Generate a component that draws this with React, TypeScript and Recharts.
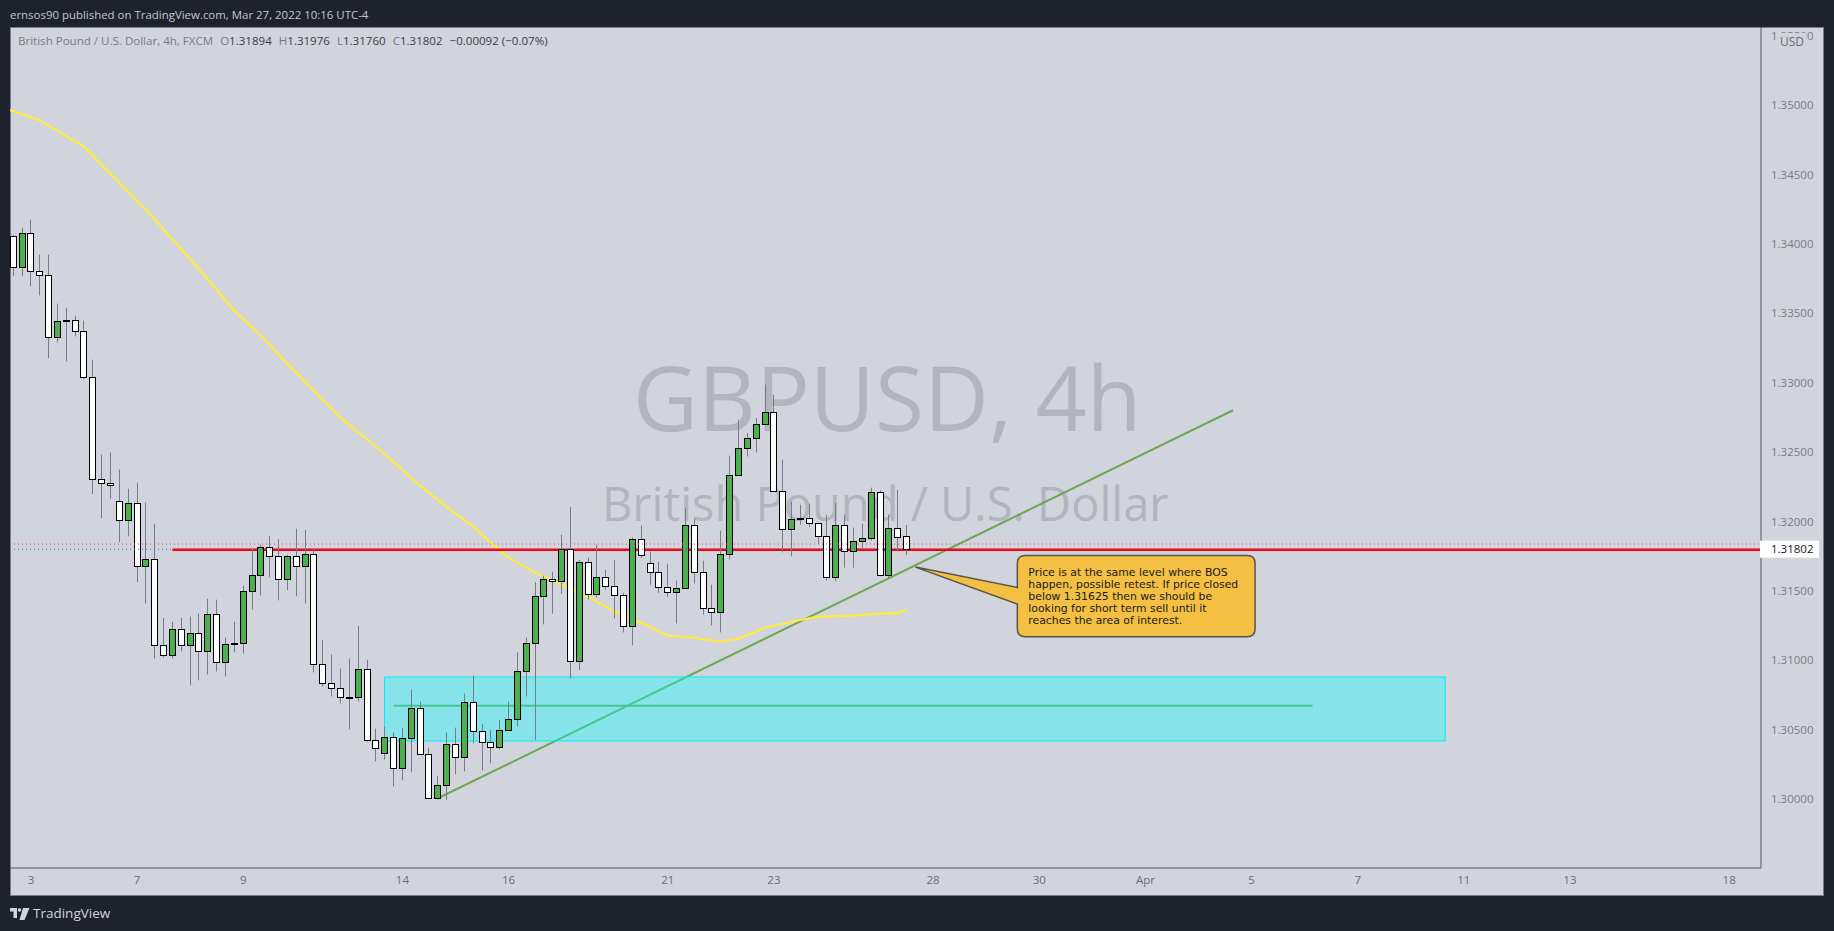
import React from "react";
import { ComposedChart, Bar, Line, XAxis, YAxis, ReferenceArea } from "recharts";

const opens = [1.34058,1.33835,1.34082,1.33806,1.33775,1.33331,1.3345,1.33453,1.33371,1.3304,1.32308,1.32279,1.32149,1.32009,1.32135,1.31678,1.31731,1.31112,1.3104,1.31227,1.31112,1.31198,1.31068,1.31335,1.30989,1.31125,1.31126,1.31501,1.31616,1.31818,1.31753,1.31587,1.31753,1.31678,1.31767,1.30975,1.30838,1.30799,1.30738,1.30737,1.30939,1.30427,1.30331,1.30449,1.30223,1.30442,1.30658,1.30326,1.30009,1.30103,1.30398,1.30305,1.30701,1.30492,1.30413,1.30377,1.30499,1.30578,1.30924,1.31126,1.31465,1.31587,1.31573,1.31803,1.30996,1.3171,1.31479,1.31602,1.31537,1.31472,1.31249,1.31875,1.31702,1.31638,1.3153,1.31493,1.31522,1.31976,1.31638,1.31378,1.31349,1.31767,1.32336,1.32531,1.32603,1.32704,1.3279,1.32221,1.31947,1.32024,1.32024,1.31991,1.31897,1.31602,1.31976,1.31789,1.31861,1.31883,1.32214,1.31616,1.31955,1.31894];
const closes = [1.33835,1.34082,1.33806,1.33775,1.33331,1.33446,1.33446,1.33371,1.3304,1.32305,1.32276,1.32262,1.32009,1.32135,1.31678,1.31731,1.31112,1.3104,1.31227,1.31112,1.31198,1.31068,1.31335,1.30989,1.31119,1.31121,1.31501,1.31616,1.31818,1.31753,1.31587,1.31753,1.31678,1.31767,1.30975,1.30835,1.30799,1.30734,1.30736,1.30939,1.30424,1.30367,1.30449,1.30223,1.30442,1.30658,1.30326,1.30009,1.30103,1.30398,1.30305,1.30701,1.30492,1.30413,1.30377,1.30499,1.30578,1.30924,1.31126,1.31465,1.31587,1.31573,1.31803,1.30996,1.3171,1.31479,1.31602,1.31537,1.31472,1.31249,1.31875,1.3176,1.31638,1.3153,1.31493,1.31522,1.31976,1.31638,1.31375,1.31349,1.31767,1.32336,1.32531,1.32603,1.32704,1.3279,1.32221,1.31947,1.32019,1.3202,1.31991,1.31897,1.31602,1.31976,1.31789,1.31861,1.31883,1.32214,1.31616,1.31955,1.3189,1.31802];
const highs = [1.34068,1.34118,1.34176,1.33924,1.33924,1.33571,1.33542,1.33484,1.33448,1.33167,1.32483,1.32497,1.32375,1.32238,1.32281,1.32137,1.31986,1.31308,1.31279,1.31308,1.31316,1.31337,1.31445,1.31438,1.31164,1.31279,1.31539,1.31805,1.31834,1.31899,1.31875,1.31762,1.3195,1.31942,1.31798,1.3115,1.31042,1.30941,1.31013,1.31251,1.31006,1.30509,1.30523,1.3048,1.30516,1.3079,1.30703,1.30372,1.3017,1.3048,1.30516,1.30761,1.3089,1.30545,1.30501,1.30573,1.30703,1.31058,1.31164,1.31563,1.31611,1.3164,1.31906,1.32106,1.31726,1.31741,1.31834,1.31654,1.31726,1.31488,1.31885,1.31971,1.31784,1.31712,1.31697,1.31575,1.32099,1.32022,1.31719,1.31546,1.31935,1.32476,1.32735,1.32639,1.32749,1.32987,1.32915,1.32447,1.32144,1.32122,1.3213,1.31991,1.3205,1.32135,1.3205,1.31957,1.31986,1.32245,1.32226,1.3205,1.32231,1.31976];
const lows = [1.33772,1.33772,1.33695,1.3363,1.33177,1.33292,1.33155,1.33335,1.33025,1.32197,1.32024,1.32166,1.31851,1.31894,1.31563,1.31411,1.31015,1.31022,1.31015,1.31066,1.30821,1.30857,1.309,1.30921,1.30885,1.31058,1.31051,1.31368,1.31469,1.31599,1.31433,1.31505,1.31462,1.31411,1.30914,1.30813,1.30741,1.30691,1.30504,1.30705,1.30415,1.30273,1.30287,1.30093,1.30136,1.30194,1.30321,1.30009,1.30009,1.29997,1.30179,1.30201,1.30403,1.30208,1.30259,1.30359,1.30499,1.30525,1.30741,1.30429,1.3126,1.31337,1.31481,1.30871,1.30929,1.31438,1.31455,1.3151,1.31303,1.31202,1.31109,1.31738,1.31546,1.31488,1.3146,1.31267,1.31522,1.31555,1.3133,1.31253,1.31202,1.31728,1.32336,1.3247,1.32499,1.32704,1.32221,1.31779,1.3175,1.31978,1.31962,1.31836,1.31575,1.3157,1.31669,1.31669,1.31798,1.31865,1.31606,1.31594,1.31786,1.3176];

const maIndex = [-0.37,3,8,11,15,18,22,25,28,31,34,37,40,43,46,49,52,54,56,59,62,65,68,71,74,77,80,82,85,88,91,95,98,100,101];
const maValues = [1.34965,1.34891,1.34702,1.34507,1.34248,1.34035,1.33747,1.3352,1.3334,1.33138,1.32944,1.32749,1.32594,1.32432,1.32259,1.32108,1.31964,1.31849,1.31741,1.31633,1.31546,1.3146,1.31352,1.31272,1.31179,1.31164,1.31135,1.31157,1.31236,1.31279,1.31316,1.31323,1.31337,1.31341,1.31366];

const dateTickIndex = [2,14,26,44,56,74,86,104,116,128,140,152,164,176,194];
const dateTickLabels = ["3","7","9","14","16","21","23","28","30","Apr","5","7","11","13","18"];
const priceTicks = [1.3,1.305,1.31,1.315,1.32,1.325,1.33,1.335,1.34,1.345,1.35,1.355,1.31802];

const trendIndex = [47.9,137.9];
const trendValues = [1.30004,1.32803];
const midIndex = [43,146.9];
const midValues = [1.30674,1.30674];
const redIndex = [18,197.6];
const redValues = [1.31798,1.31798];
const fullIndex = [-0.37,197.6];
const prevCloseValues = [1.31839,1.31839];
const lastCloseValues = [1.31802,1.31802];

const zone = { x1: 41.97, x2: 161.9, y1: 1.30881, y2: 1.3042 };
const callout = { x1: 102, x2: 140.4, y1: 1.31757, y2: 1.31171 };
const calloutLines = [
  "Price is at the same level where BOS",
  "happen, possible retest. If price closed",
  "below 1.31625 then we should be",
  "looking for short term sell until it",
  "reaches the area of interest.",
];

const candles = opens.map((o, i) => ({ i, open: o, close: closes[i], high: highs[i], low: lows[i] }));
const zip = (xs: number[], ys: number[]) => xs.map((i, k) => ({ i, p: ys[k] }));

const FONT = "'Open Sans', sans-serif";
const BG = "#1e222d";
const PANEL = "#d1d4dc";

function Candle(props: any) {
  const { x, y, width, height, payload } = props;
  if (!payload || !isFinite(y)) return null;
  const h = Math.abs(height);
  const span = payload.high - payload.low || 1;
  const yOf = (p: number) => y + ((payload.high - p) / span) * h;
  const cx = Math.floor(x + width / 2);
  const top = Math.round(yOf(Math.max(payload.open, payload.close))) + 0.5;
  const bot = Math.round(yOf(Math.min(payload.open, payload.close))) + 0.5;
  const up = payload.close > payload.open;
  return (
    <g>
      <line x1={cx + 0.5} x2={cx + 0.5} y1={y} y2={y + h} stroke="#787b86" strokeWidth={1} />
      <rect x={cx - 2.5} y={top} width={6} height={Math.max(bot - top, 1)} fill={up ? "#4caf50" : "#ffffff"} stroke="#000000" strokeWidth={1} />
    </g>
  );
}

function PriceTick(props: any) {
  const { x, y, payload } = props;
  const last = payload.value === 1.31802;
  return (
    <g>
      {last && <rect x={x - 9} y={y - 8.5} width={59} height={17} fill="#ffffff" />}
      <text x={x + 2} y={y + 4} fontFamily={FONT} fontSize={11.5} fill={last ? "#131722" : "#787b86"}>
        {payload.value.toFixed(5)}
      </text>
    </g>
  );
}

function Callout(props: any) {
  const { x, y, width, height } = props;
  const tipX = x;
  const tipY = y + height * 0.1435;
  const boxX = x + width * 0.3;
  const right = x + width;
  const bottom = y + height;
  const r = 8;
  const j1 = y + height * 0.394;
  const j2 = y + height * 0.598;
  const d = `M${boxX + r},${y} H${right - r} Q${right},${y} ${right},${y + r} V${bottom - r} Q${right},${bottom} ${right - r},${bottom} H${boxX + r} Q${boxX},${bottom} ${boxX},${bottom - r} V${j2} L${tipX},${tipY} L${boxX},${j1} V${y + r} Q${boxX},${y} ${boxX + r},${y} Z`;
  return (
    <g>
      <path d={d} fill="#f4c044" stroke="#55534a" strokeWidth={1.5} />
      {calloutLines.map((t, k) => (
        <text key={k} x={boxX + 11} y={y + 20.5 + k * 12} fontFamily="'DejaVu Sans', sans-serif" fontSize={10.85} fill="#1a1a1a">{t}</text>
      ))}
    </g>
  );
}

const abs = (s: React.CSSProperties): React.CSSProperties => ({ position: "absolute", whiteSpace: "nowrap", fontFamily: FONT, ...s });
const L = ({ c }: { c: string }) => <span style={{ color: "#787b86" }}>{c}</span>;
const V = ({ c }: { c: string }) => <span style={{ color: "#3a3d48" }}>{c}</span>;

export default function App() {
  return (
    <div style={{ position: "fixed", left: 0, top: 0, width: 1834, height: 931, background: BG, overflow: "hidden" }}>
      <div style={abs({ left: 10, top: 7, fontSize: 11.45, color: "#c3c6ce" })}>ernsos90 published on TradingView.com, Mar 27, 2022 10:16 UTC-4</div>
      <div style={{ position: "absolute", left: 10, top: 27, width: 1814, height: 869, background: PANEL, boxShadow: "inset 0 0 0 1px #787b86" }} />
      <div style={abs({ left: 633, top: 333, width: 504, textAlign: "center", fontSize: 89.5, lineHeight: "126px", color: "#b2b5be" })}>GBPUSD, 4h</div>
      <div style={abs({ left: 602, top: 470, width: 565, textAlign: "center", fontSize: 47, lineHeight: "66px", color: "#b2b5be" })}>British Pound / U.S. Dollar</div>
      <div style={{ position: "absolute", left: 0, top: 0 }}>
        <ComposedChart width={1834} height={931} data={candles} margin={{ left: 10, top: 27, right: 10, bottom: 35.5 }}>
          <XAxis dataKey="i" type="number" domain={[-0.37, 197.6]} allowDataOverflow ticks={dateTickIndex} interval={0} height={27.5}
            tickFormatter={(v: number) => dateTickLabels[dateTickIndex.indexOf(v)]}
            tick={{ fontFamily: FONT, fontSize: 11.5, fill: "#6a6d78" }} tickLine={false} axisLine={{ stroke: "#50535e" }} />
          <YAxis orientation="right" type="number" domain={[1.29505, 1.35564]} allowDataOverflow ticks={priceTicks} interval={0} width={63}
            tick={<PriceTick />} tickLine={false} axisLine={{ stroke: "#50535e" }} />
          <Line zIndex={150} data={zip(trendIndex, trendValues)} dataKey="p" stroke="#6aa84f" strokeWidth={2} dot={false} activeDot={false} isAnimationActive={false} />
          <Line zIndex={150} data={zip(midIndex, midValues)} dataKey="p" stroke="#6aa84f" strokeWidth={2} dot={false} activeDot={false} isAnimationActive={false} />
          <ReferenceArea zIndex={160} x1={zone.x1} x2={zone.x2} y1={zone.y1} y2={zone.y2} fill="#00ffff" fillOpacity={0.364} stroke="#00f0f5" strokeWidth={1} strokeOpacity={1} />
          <Line zIndex={170} data={zip(maIndex, maValues)} dataKey="p" stroke="#ffeb3b" strokeWidth={2.2} dot={false} activeDot={false} isAnimationActive={false} />
          <Line zIndex={180} data={zip(redIndex, redValues)} dataKey="p" stroke="#ff0000" strokeWidth={2.4} dot={false} activeDot={false} isAnimationActive={false} />
          <Bar zIndex={300} dataKey={(d: any) => [d.low, d.high]} barSize={7} shape={<Candle />} isAnimationActive={false} />
          <Line zIndex={400} data={zip(fullIndex, prevCloseValues)} dataKey="p" stroke="#ff3b3b" strokeWidth={1} strokeDasharray="1 3" dot={false} activeDot={false} isAnimationActive={false} />
          <Line zIndex={400} data={zip(fullIndex, lastCloseValues)} dataKey="p" stroke="#2962ff" strokeWidth={1} strokeDasharray="1 3" dot={false} activeDot={false} isAnimationActive={false} />
          <ReferenceArea zIndex={450} x1={callout.x1} x2={callout.x2} y1={callout.y1} y2={callout.y2} shape={<Callout />} />
        </ComposedChart>
      </div>
      <div style={abs({ left: 18, top: 33, fontSize: 11.55, color: "#787b86" })}>
        <L c="British Pound / U.S. Dollar, 4h, FXCM" />
        <span style={{ marginLeft: 7 }}><L c="O" /><V c="1.31894" /></span>
        <span style={{ marginLeft: 7 }}><L c="H" /><V c="1.31976" /></span>
        <span style={{ marginLeft: 7 }}><L c="L" /><V c="1.31760" /></span>
        <span style={{ marginLeft: 7 }}><L c="C" /><V c="1.31802" /></span>
        <span style={{ marginLeft: 7 }}><V c="−0.00092 (−0.07%)" /></span>
      </div>
      <div style={abs({ left: 1778, top: 33, width: 28, height: 18, background: PANEL, textAlign: "center", fontSize: 12, lineHeight: "18px", color: "#6a6d78" })}>USD</div>
      <svg style={{ position: "absolute", left: 10, top: 908 }} width={20} height={13} viewBox="0 0 20 13">
        <path d="M0 0H7V10H3.5V3.5H0Z" fill="#d1d4dc" />
        <circle cx="9.5" cy="2" r="1.8" fill="#d1d4dc" />
        <path d="M13 0H19.5L14.5 12H9.5Z" fill="#d1d4dc" />
      </svg>
      <div style={abs({ left: 33, top: 904, fontSize: 13.5, color: "#d1d4dc" })}>TradingView</div>
    </div>
  );
}
